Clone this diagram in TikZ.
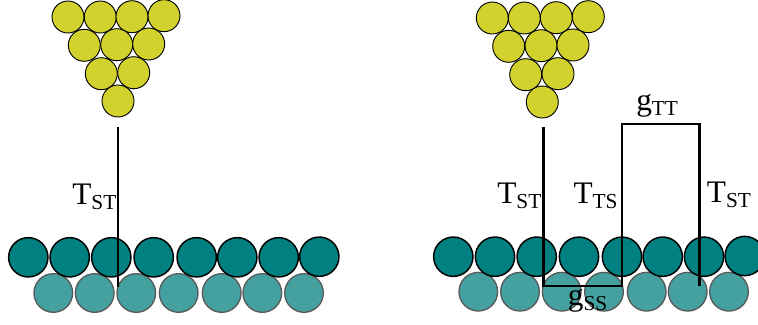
\documentclass[tikz,border=0pt]{standalone}
\usepackage{fontspec}
\setmainfont{Liberation Serif}
\usepackage{xcolor}
\definecolor{tipyellow}{HTML}{D2D22E}
\definecolor{surfteal}{HTML}{008080}
\definecolor{lowerteal}{HTML}{45A0A0}
\newcommand{\lbl}[2]{{\fontsize{23.5}{23.5}\selectfont #1}\raisebox{-3.8pt}{\fontsize{16}{16}\selectfont #2}}
\begin{document}
\begin{tikzpicture}[x=0.75pt,y=-0.75pt]
	\tikzset{tipatom/.style={circle,draw=black,line width=0.7pt,fill=tipyellow,minimum size=24pt,inner sep=0pt}}
	\tikzset{topatom/.style={circle,draw=black,line width=1.1pt,fill=surfteal,minimum size=29.5pt,inner sep=0pt}}
	\tikzset{lowatom/.style={circle,draw=black!65,line width=1pt,fill=lowerteal,minimum size=29pt,inner sep=0pt}}
	\tikzset{mylabel/.style={anchor=base west,inner sep=0pt}}
	\tikzset{myline/.style={line width=2.2pt,line join=miter}}
	\useasboundingbox (0,0) rectangle (758,325);

	% left tip
	\node[tipatom] (a1)  at (68,17)      {};
	\node[tipatom] (a2)  at (100.3,17)   {};
	\node[tipatom] (a3)  at (132,16.7)   {};
	\node[tipatom] (a4)  at (164,15.7)   {};
	\node[tipatom] (a5)  at (84.3,45.3)  {};
	\node[tipatom] (a6)  at (116.7,44.7) {};
	\node[tipatom] (a7)  at (148.7,44)   {};
	\node[tipatom] (a8)  at (101.3,73.7) {};
	\node[tipatom] (a9)  at (133.7,72.7) {};
	\node[tipatom] (a10) at (118,101)    {};

	% left surface
	\node[lowatom] (c1) at (53.3,293)  {};
	\node[lowatom] (c2) at (94.7,293)  {};
	\node[lowatom] (c3) at (136.3,293) {};
	\node[lowatom] (c4) at (178.7,293) {};
	\node[lowatom] (c5) at (221.7,293) {};
	\node[lowatom] (c6) at (262.3,293) {};
	\node[lowatom] (c7) at (304,293)   {};
	\node[topatom] (b1) at (28.3,257.3)  {};
	\node[topatom] (b2) at (69.7,257.3)  {};
	\node[topatom] (b3) at (111.3,257.3) {};
	\node[topatom] (b4) at (153.7,257.3) {};
	\node[topatom] (b5) at (196.7,257.3) {};
	\node[topatom] (b6) at (237.3,257.3) {};
	\node[topatom] (b7) at (278.7,257.3) {};
	\node[topatom] (b8) at (319.3,256.7) {};

	% right tip
	\node[tipatom] (d1)  at (492.3,18)   {};
	\node[tipatom] (d2)  at (524.3,18)   {};
	\node[tipatom] (d3)  at (556.3,17.7) {};
	\node[tipatom] (d4)  at (588.3,16.7) {};
	\node[tipatom] (d5)  at (508.7,46.3) {};
	\node[tipatom] (d6)  at (541,45.7)   {};
	\node[tipatom] (d7)  at (573,45)     {};
	\node[tipatom] (d8)  at (525.7,74.7) {};
	\node[tipatom] (d9)  at (558,73.7)   {};
	\node[tipatom] (d10) at (542.3,102)  {};

	% right surface
	\node[lowatom] (f1) at (478.3,291.7) {};
	\node[lowatom] (f2) at (520,291.7)   {};
	\node[lowatom] (f3) at (561.7,291.7) {};
	\node[lowatom] (f4) at (604,291.7)   {};
	\node[lowatom] (f5) at (646.7,291.7) {};
	\node[lowatom] (f6) at (687.7,291.7) {};
	\node[lowatom] (f7) at (729,291.7)   {};
	\node[topatom] (e1) at (453.3,256.7) {};
	\node[topatom] (e2) at (495,256.7)   {};
	\node[topatom] (e3) at (536.7,256.7) {};
	\node[topatom] (e4) at (579,256.7)   {};
	\node[topatom] (e5) at (622,256.7)   {};
	\node[topatom] (e6) at (662.7,256.7) {};
	\node[topatom] (e7) at (704,256.7)   {};
	\node[topatom] (e8) at (744.7,256)   {};

	% ends of the lines
	\coordinate (p1) at (118,127);
	\coordinate (p2) at (118,287);
	\coordinate (q1) at (543.3,126.5);
	\coordinate (q2) at (543.3,286);
	\coordinate (q3) at (622,286);
	\coordinate (q4) at (622,124);
	\coordinate (q5) at (699.7,124);
	\coordinate (q6) at (699.7,286);

	\draw[myline] (p1) -- (p2);
	\draw[myline] (q1) -- (q2) -- (q3) -- (q4) -- (q5) -- (q6);

	\node[mylabel] (t1) at (72,204)    {\lbl{T}{ST}};
	\node[mylabel] (t2) at (497,203)   {\lbl{T}{ST}};
	\node[mylabel] (t3) at (573.3,203) {\lbl{T}{TS}};
	\node[mylabel] (t4) at (706.7,202) {\lbl{T}{ST}};
	\node[mylabel] (g1) at (636,110)   {\lbl{g}{TT}};
	\node[mylabel] (g2) at (567.7,305) {\lbl{g}{SS}};
\end{tikzpicture}
\end{document}
